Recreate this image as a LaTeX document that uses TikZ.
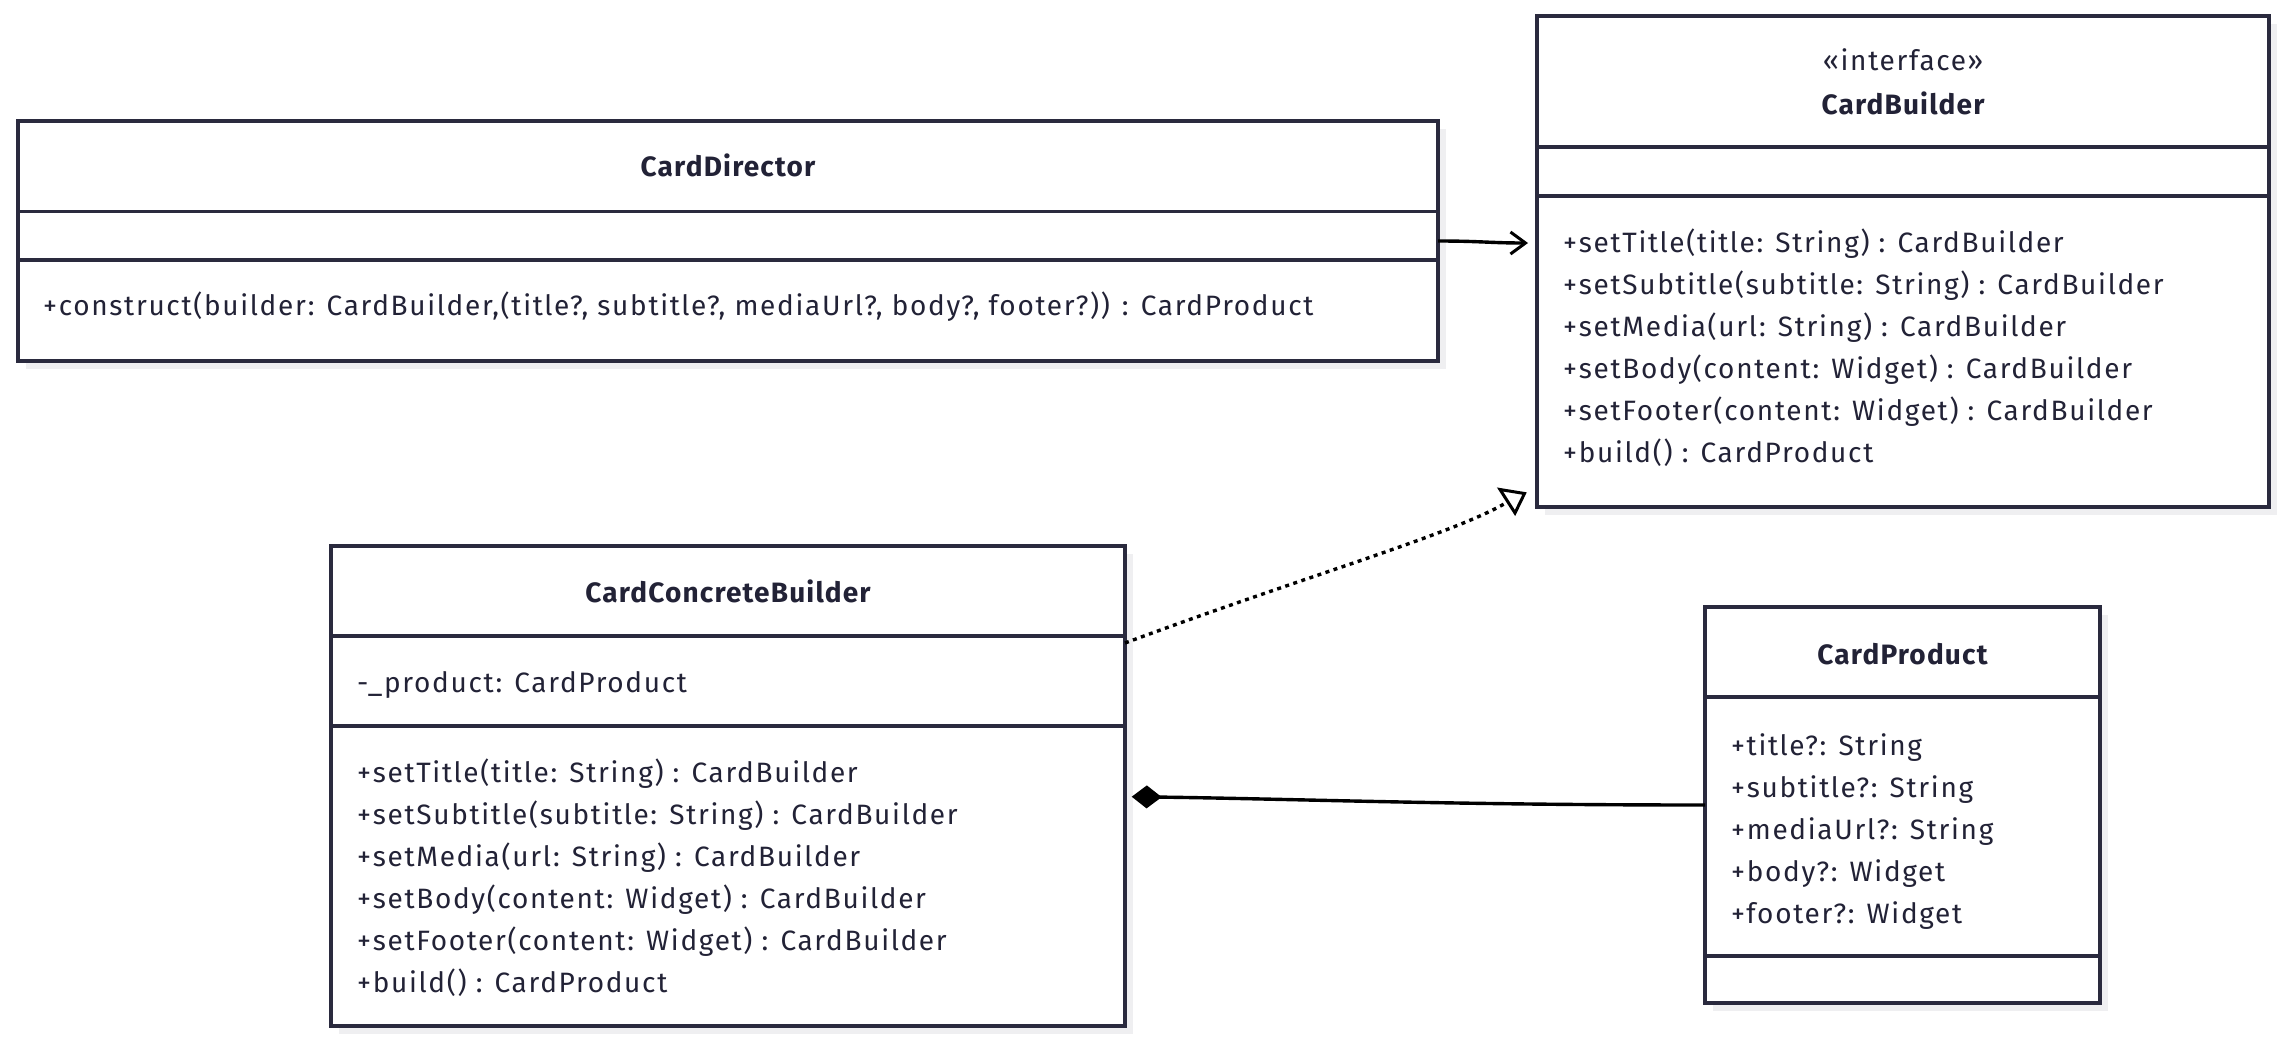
\documentclass[tikz,border=0pt]{standalone}
\usepackage{fontspec}
\setmainfont{Fira Sans}
\newfontfamily\memfont{Fira Sans}[LetterSpace=6]
\newfontfamily\ttlfont{Fira Sans}[LetterSpace=4.2]
\usetikzlibrary{arrows.meta,shadows}
\definecolor{boxline}{RGB}{42,42,62}
\definecolor{txt}{RGB}{34,34,54}
\definecolor{shade}{RGB}{239,239,241}
\tikzset{
 cls/.style={draw=boxline, line width=3.4pt, fill=white, inner sep=0pt, outer sep=0pt,
   general shadow={fill=shade, shadow xshift=8pt, shadow yshift=-8pt}},
 sep/.style={draw=boxline, line width=3.4pt},
 ttl/.style={font=\ttlfont\fontsize{28}{30}\selectfont\bfseries, text=txt, anchor=base, inner sep=0pt},
 stereo/.style={font=\memfont\fontsize{28}{30}\selectfont, text=txt, anchor=base, inner sep=0pt},
 mem/.style={font=\memfont\fontsize{28}{30}\selectfont, text=txt, anchor=base west, inner sep=0pt},
 assoc/.style={draw=black, line width=3.4pt, -{Straight Barb[length=15pt,width=22pt,line width=3pt]}},
 realize/.style={draw=black, line width=3.4pt, dash pattern=on 4pt off 4.5pt},
 rtri/.style={draw=black, fill=white, line width=3pt, line join=miter},
 comp/.style={draw=black, line width=3.4pt, -{Diamond[length=30pt,width=23pt]}},
}
\begin{document}
\begin{tikzpicture}[x=1pt,y=-1pt]
\useasboundingbox[fill=white] (0,0) rectangle (2287,1042);

% CardDirector
\node[cls, minimum width=1420pt, minimum height=240pt] (dir) at (728,241) {};
\draw[sep] (dir.west |- 0,211.5) -- (dir.east |- 0,211.5);
\draw[sep] (dir.west |- 0,260) -- (dir.east |- 0,260);
\node[ttl] (dirT) at (728,176) {CardDirector};
\node[mem] (dirM1) at (43,315) {+construct(builder: CardBuilder,(title?, subtitle?, mediaUrl?, body?, footer?)) : CardProduct};

% CardBuilder
\node[cls, minimum width=732pt, minimum height=491pt] (bld) at (1903,261.5) {};
\draw[sep] (bld.west |- 0,147) -- (bld.east |- 0,147);
\draw[sep] (bld.west |- 0,196) -- (bld.east |- 0,196);
\node[stereo] (bldS) at (1903,70) {«interface»};
\node[ttl] (bldT) at (1903,114) {CardBuilder};
\node[mem] (bldM1) at (1563,252) {+setTitle(title: String) : CardBuilder};
\node[mem] (bldM2) at (1563,294) {+setSubtitle(subtitle: String) : CardBuilder};
\node[mem] (bldM3) at (1563,336) {+setMedia(url: String) : CardBuilder};
\node[mem] (bldM4) at (1563,378) {+setBody(content: Widget) : CardBuilder};
\node[mem] (bldM5) at (1563,420) {+setFooter(content: Widget) : CardBuilder};
\node[mem] (bldM6) at (1563,462) {+build() : CardProduct};

% CardConcreteBuilder
\node[cls, minimum width=794pt, minimum height=480pt] (ccb) at (728,786) {};
\draw[sep] (ccb.west |- 0,636) -- (ccb.east |- 0,636);
\draw[sep] (ccb.west |- 0,726) -- (ccb.east |- 0,726);
\node[ttl] (ccbT) at (728,602) {CardConcreteBuilder};
\node[mem] (ccbA1) at (357,692) {-\_product: CardProduct};
\node[mem] (ccbM1) at (357,782) {+setTitle(title: String) : CardBuilder};
\node[mem] (ccbM2) at (357,824) {+setSubtitle(subtitle: String) : CardBuilder};
\node[mem] (ccbM3) at (357,866) {+setMedia(url: String) : CardBuilder};
\node[mem] (ccbM4) at (357,908) {+setBody(content: Widget) : CardBuilder};
\node[mem] (ccbM5) at (357,950) {+setFooter(content: Widget) : CardBuilder};
\node[mem] (ccbM6) at (357,992) {+build() : CardProduct};

% CardProduct
\node[cls, minimum width=395pt, minimum height=396pt] (prd) at (1902.5,805) {};
\draw[sep] (prd.west |- 0,697) -- (prd.east |- 0,697);
\draw[sep] (prd.west |- 0,956) -- (prd.east |- 0,956);
\node[ttl] (prdT) at (1902.5,664) {CardProduct};
\node[mem] (prdA1) at (1731,755) {+title?: String};
\node[mem] (prdA2) at (1731,797) {+subtitle?: String};
\node[mem] (prdA3) at (1731,839) {+mediaUrl?: String};
\node[mem] (prdA4) at (1731,881) {+body?: Widget};
\node[mem] (prdA5) at (1731,923) {+footer?: Widget};

% Connectors
\coordinate (bldIn) at (1528,243);
\draw[assoc] (dir.east) .. controls (1480,241) and (1490,243) .. (bldIn);

\coordinate (realEnd) at (1504,504);
\draw[realize] (ccb.east |- 0,643) .. controls (1300,578) and (1450,535) .. (realEnd);
\draw[rtri] (1500,489.5) -- (1524.5,493.5) -- (1515,513) -- cycle;

\coordinate (diamTip) at (1131.7,796.7);
\draw[comp] (prd.west) .. controls (1450,805) and (1300,799) .. (diamTip);
\end{tikzpicture}
\end{document}
